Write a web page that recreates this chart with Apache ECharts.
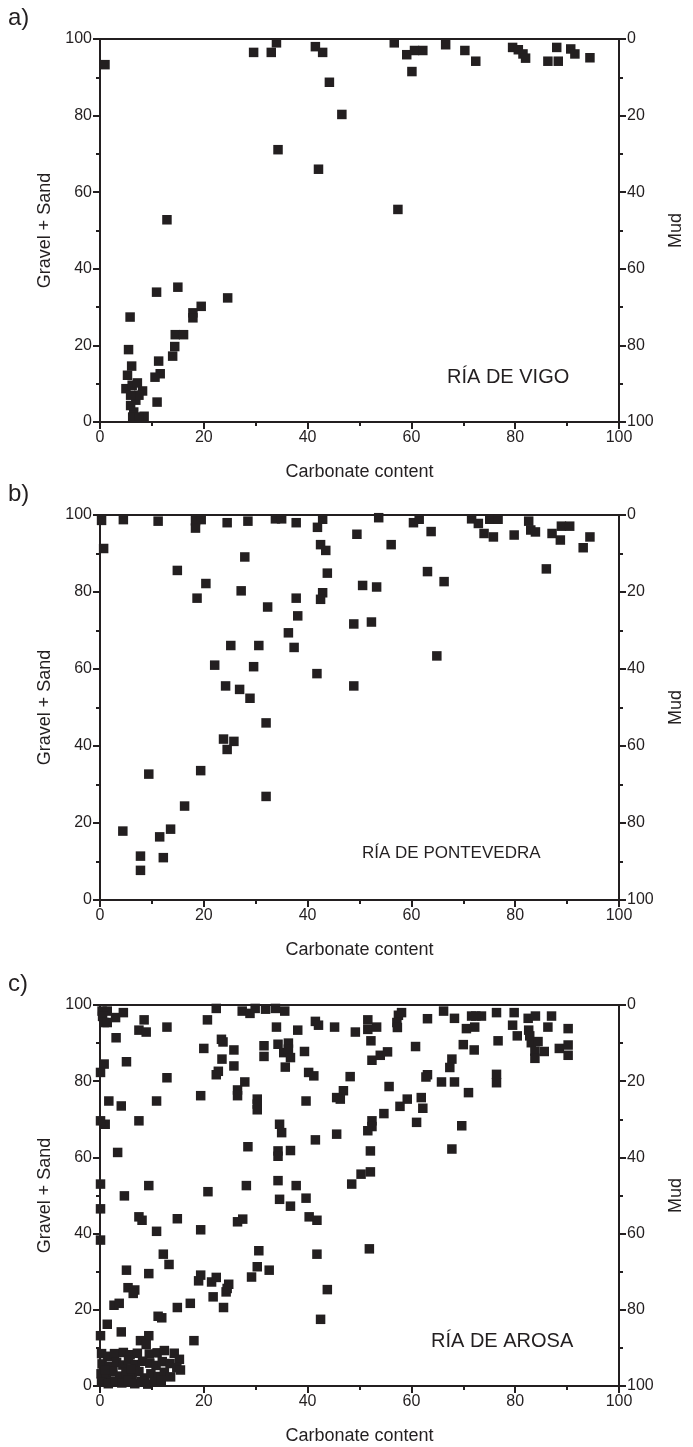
<!DOCTYPE html>
<html>
<head>
<meta charset="utf-8">
<script src="https://cdn.jsdelivr.net/npm/echarts@6/dist/echarts.min.js"></script>
<style>
  html, body { margin: 0; padding: 0; background: #fff; }
  #main { width: 693px; height: 1447px; }
</style>
</head>
<body>
<div id="main"></div>
<script>
// Carbonate content (x) vs Gravel + Sand (y), one list per ria
var vigoData = [
  [0.96, 93.3], [29.6, 96.5], [33, 96.5], [34, 99], [41.5, 98], [42.9, 96.5], [44.2, 88.7], [46.6, 80.3],
  [34.3, 71.1], [42.1, 66], [12.9, 52.8], [10.9, 33.9], [15, 35.2], [24.6, 32.4], [5.8, 27.4], [19.5, 30.2],
  [17.9, 28.5], [17.9, 27.2], [14.5, 22.8], [16.1, 22.8], [14.4, 19.7], [14, 17.2], [11.3, 15.9], [11.6, 12.6],
  [10.6, 11.7], [5.5, 18.9], [6.1, 14.6], [5.3, 12.2], [5, 8.7], [6.2, 9.6], [8.2, 8.1], [6.9, 5.7], [11, 5.2],
  [6.5, 2.6], [6.3, 1.3], [8.5, 1.5], [7.5, 7], [5.9, 7], [7.5, 1.3], [5.9, 4.3], [7.2, 10.2],
  [56.7, 99], [59.1, 95.9], [60.6, 97], [62.2, 97], [60.1, 91.5], [66.6, 98.5], [70.3, 97], [72.4, 94.2],
  [79.5, 97.8], [80.6, 97.2], [81.5, 96.1], [82, 95], [86.3, 94.2], [88.3, 94.2], [88, 97.8], [90.7, 97.4],
  [91.5, 96.1], [94.4, 95.1], [57.4, 55.5]
];

var pontevedraData = [
  [0.3, 98.6], [4.5, 98.8], [11.2, 98.4], [18.4, 98.5], [19.5, 98.8], [18.4, 96.6], [24.5, 98], [28.5, 98.4],
  [33.8, 99], [35, 99], [37.8, 98], [41.9, 96.8], [42.9, 98.9], [49.5, 95], [0.7, 91.3], [27.9, 89.1],
  [42.5, 92.3], [43.5, 90.8], [43.8, 84.9], [14.9, 85.6], [20.4, 82.2], [27.2, 80.3], [18.7, 78.4], [37.8, 78.4],
  [42.9, 79.8], [42.5, 78.1], [32.3, 76.1], [38.1, 73.8], [36.3, 69.4], [25.2, 66.1], [30.6, 66.1], [37.4, 65.6],
  [22.1, 61], [29.6, 60.6], [41.8, 58.8], [48.9, 55.6], [24.2, 55.6], [26.9, 54.7], [28.9, 52.4],
  [32, 46], [23.8, 41.8], [25.8, 41.2], [24.5, 39.1], [9.4, 32.7], [19.4, 33.6], [32, 26.9], [16.3, 24.4],
  [4.4, 17.9], [13.6, 18.4], [11.5, 16.4], [7.8, 11.4], [12.2, 11], [7.8, 7.7],
  [53.7, 99.3], [60.4, 98], [61.5, 98.9], [63.8, 95.7], [71.6, 99], [72.9, 97.8], [75.1, 98.9], [76.7, 98.9],
  [74, 95.2], [75.8, 94.3], [79.8, 94.8], [82.6, 98.4], [83, 96.1], [83.9, 95.6], [87.1, 95.2], [88.7, 93.5],
  [88.9, 97.1], [90.5, 97.1], [93.1, 91.5], [94.4, 94.3], [56.1, 92.3], [86, 86], [63.1, 85.3], [66.3, 82.7],
  [50.6, 81.7], [53.3, 81.3], [48.9, 71.7], [52.3, 72.2], [64.9, 63.4]
];

var arosaData = [
  [0.4, 98.4], [1.4, 98.4], [0.5, 97], [0.8, 95.4], [1.4, 95.4], [3, 96.7], [4.5, 98], [8.5, 96.1], [12.9, 94.2],
  [7.5, 93.4], [8.9, 92.9], [3.1, 91.4], [22.4, 99.1], [20.7, 96.1], [27.4, 98.4], [28.9, 97.8], [29.9, 99.1],
  [31.9, 98.9], [33.8, 99.1], [35.6, 98.4], [34, 94.2], [38.1, 93.4], [41.5, 95.7], [42.1, 94.7], [45.2, 94.2],
  [23.4, 91], [23.7, 90.3], [20, 88.6], [25.8, 88.2], [31.6, 89.3], [31.6, 86.5], [34.3, 89.7], [36.3, 90],
  [35.4, 87.5], [36.7, 86.2], [36.3, 88.4], [39.4, 87.8], [5.1, 85.1], [0.8, 84.5], [23.5, 85.8], [25.8, 84],
  [35.7, 83.7], [22.8, 82.6], [22.4, 81.7], [40.2, 82.3], [41.2, 81.4], [12.9, 80.9], [27.9, 79.8], [0.1, 82.3],
  [19.4, 76.2], [26.5, 77.7], [26.5, 76.2], [30.3, 75.3], [30.3, 74], [30.3, 72.5], [1.7, 74.8], [4.1, 73.5],
  [10.9, 74.8], [39.7, 74.8], [46.9, 77.5], [45.6, 75.7], [46.3, 75.3], [1, 68.7], [0.1, 69.6], [7.5, 69.6],
  [34.6, 68.7], [35, 66.5], [41.5, 64.6], [45.6, 66.1], [28.5, 62.8], [34.3, 61.7], [34.3, 60.3], [36.7, 61.8],
  [3.4, 61.3], [34.3, 53.9], [37.8, 52.6], [28.2, 52.6], [9.4, 52.6], [20.8, 51], [0.1, 53],
  [4.7, 49.9], [34.6, 49], [36.7, 47.2], [39.7, 49.3], [40.3, 44.4], [41.8, 43.5], [7.5, 44.4], [8.1, 43.5],
  [14.9, 43.9], [10.9, 40.6], [19.4, 41], [26.5, 43.1], [27.5, 43.8], [30.6, 35.5], [41.8, 34.6], [12.2, 34.6],
  [13.3, 31.9], [5.1, 30.4], [9.4, 29.5], [19.4, 29.1], [19, 27.6], [21.5, 27.3], [22.4, 28.5], [24.8, 26.7],
  [24.3, 24.7], [24.5, 25.6], [21.8, 23.4], [23.8, 20.6], [30.3, 31.3], [29.2, 28.6], [32.6, 30.4], [43.8, 25.3],
  [42.5, 17.5], [5.4, 25.8], [6.7, 25.2], [6.4, 24.3], [2.7, 21.2], [3.7, 21.7], [14.9, 20.6], [17.4, 21.7],
  [11.2, 18.3], [11.9, 17.9], [1.4, 16.2], [4.1, 14.2], [0.1, 13.2], [9.4, 13.2], [7.8, 11.9], [8.9, 10.9],
  [18.1, 11.9], [0.1, 46.5], [0.1, 38.3],
  [0.3, 8.5], [1.5, 7.8], [2.8, 8.5], [4.5, 8.8], [5.8, 8.2], [7.2, 8.6], [9.5, 8.4], [11, 8.7], [12.4, 9.3],
  [14.3, 8.6], [15.3, 7], [0.4, 5.8], [1.8, 5.2], [3.2, 6.2], [4.4, 5.5], [5.5, 6.8], [6.8, 5.6], [8.2, 6.5],
  [9.6, 6], [10.8, 5.4], [12, 6.4], [13.5, 5.9], [14.8, 4.8], [15.5, 4.2], [0.2, 3.2], [1.2, 2.5], [2.5, 3.8],
  [3.8, 2.6], [5, 3.5], [6.2, 2.3], [7.5, 3.8], [8.6, 2.1], [9.8, 3.2], [11.2, 2.5], [12.4, 3.6], [13.6, 2.4],
  [0.3, 1], [1.6, 0.6], [2.9, 1.3], [4.2, 0.8], [5.4, 1.5], [6.7, 0.6], [8, 1.2], [9.2, 0.5], [10.5, 1.1],
  [11.8, 1.4], [1, 4.2], [6, 4.5],
  [49.2, 92.9], [51.6, 96.1], [51.6, 93.6], [53.3, 94.2], [52.2, 90.6], [57.5, 97.3], [57.2, 95.4], [57.3, 94.1],
  [58.1, 98], [63.1, 96.4], [66.2, 98.4], [68.3, 96.5], [71.6, 97.1], [73.5, 97.1], [72.4, 97.1], [70.6, 93.8],
  [72.2, 94.2], [76.4, 98], [79.8, 98], [82.5, 96.5], [83.9, 97.1], [87, 97.1], [79.5, 94.7], [82.6, 93.4],
  [82.8, 91.9], [86.3, 94.2], [90.2, 93.8], [80.4, 91.9], [76.7, 90.6], [60.8, 89.1], [70, 89.6], [72.1, 88.2],
  [83.1, 90.1], [84.4, 90.4], [83.8, 87.9], [85.6, 87.8], [83.8, 86], [88.5, 88.6], [90.2, 89.5], [90.2, 86.8],
  [52.4, 85.5], [54, 86.8], [55.4, 87.7], [67.8, 85.8], [67.4, 83.6], [48.2, 81.2], [63.1, 81.7], [62.8, 81.1],
  [65.8, 79.8], [68.3, 79.8], [76.4, 81.8], [76.4, 79.6], [55.7, 78.6], [71, 77], [59.2, 75.3], [57.8, 73.4],
  [61.9, 75.7], [62.2, 72.9], [54.7, 71.5], [52.4, 69.6], [52.4, 68.1], [51.6, 67], [61, 69.2], [69.7, 68.3],
  [52.1, 61.7], [67.8, 62.2], [50.3, 55.6], [52.1, 56.2], [48.5, 53], [51.9, 36]
];

var panelNames = ['RÍA DE VIGO', 'RÍA DE PONTEVEDRA', 'RÍA DE AROSA'];
var panelLetters = ['a)', 'b)', 'c)'];
var panelSeries = [vigoData, pontevedraData, arosaData];

// layout (px)
var gridTops = [39, 515, 1005];
var gridHeights = [383, 385, 381];
var namePos = [[447, 367], [362, 845], [431, 1331]];
var nameSizes = [20, 17, 20];
var ink = '#231f20';
var font = '"Liberation Sans", Arial, sans-serif';

var grids = [], xAxes = [], yAxes = [], series = [], graphics = [];

function tickStyle() {
  return {
    axisLine: { show: true, lineStyle: { color: ink, width: 2 } },
    axisTick: { show: true, length: 7, lineStyle: { color: ink, width: 2 } },
    minorTick: { show: true, splitNumber: 2, length: 4, lineStyle: { color: ink, width: 2 } },
    axisLabel: { color: ink, fontSize: 16, fontFamily: font, margin: 8 },
    splitLine: { show: false }
  };
}

for (var i = 0; i < 3; i++) {
  grids.push({
    left: 100, width: 520, top: gridTops[i], height: gridHeights[i],
    show: true, borderColor: ink, borderWidth: 2, backgroundColor: 'transparent'
  });

  xAxes.push(Object.assign({
    gridIndex: i, type: 'value', min: 0, max: 100, interval: 20,
    name: 'Carbonate content', nameLocation: 'middle', nameGap: 41,
    nameTextStyle: { color: ink, fontSize: 18, fontFamily: font }
  }, tickStyle()));

  yAxes.push(Object.assign({
    gridIndex: i, type: 'value', position: 'left', min: 0, max: 100, interval: 20,
    name: 'Gravel + Sand', nameLocation: 'middle', nameGap: 38,
    nameTextStyle: { color: ink, fontSize: 18, fontFamily: font }
  }, tickStyle()));

  yAxes.push(Object.assign({
    gridIndex: i, type: 'value', position: 'right', inverse: true, min: 0, max: 100, interval: 20,
    name: 'Mud', nameLocation: 'middle', nameGap: 48,
    nameTextStyle: { color: ink, fontSize: 18, fontFamily: font }
  }, tickStyle()));

  series.push({
    type: 'scatter', xAxisIndex: i, yAxisIndex: i * 2,
    symbol: 'rect', symbolSize: 9.5,
    itemStyle: { color: ink, opacity: 1 },
    data: panelSeries[i]
  });

  graphics.push({
    type: 'text', left: 8, top: gridTops[i] - 33,
    style: { text: panelLetters[i], fill: ink, font: '24px ' + font }
  });
  graphics.push({
    type: 'text', left: namePos[i][0], top: namePos[i][1],
    style: { text: panelNames[i], fill: ink, font: nameSizes[i] + 'px ' + font }
  });
}

var chart = echarts.init(document.getElementById('main'), null, { renderer: 'canvas' });
chart.setOption({
  backgroundColor: '#ffffff',
  animation: false,
  grid: grids,
  xAxis: xAxes,
  yAxis: yAxes,
  series: series,
  graphic: graphics
});
</script>
</body>
</html>
